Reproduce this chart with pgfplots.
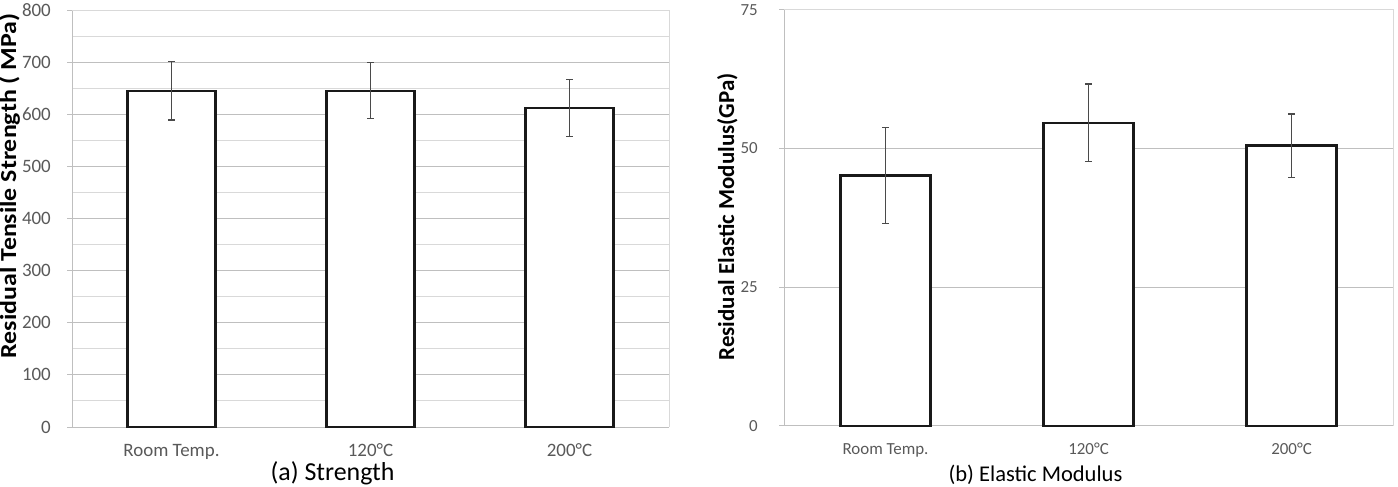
\documentclass[border=0pt]{standalone}
\usepackage{fontspec}
\setmainfont{Carlito}
\usepackage{pgfplots}
\pgfplotsset{compat=1.18}
\definecolor{tickgray}{HTML}{595959}
\definecolor{gridmaj}{HTML}{BFBFBF}
\definecolor{gridmin}{HTML}{D9D9D9}
\definecolor{errgray}{HTML}{4A4A4A}
\pgfplotstableread{
x y err
0 645 56
1 645 54
2 612 55
}\strengthdata
\pgfplotstableread{
x y err
0 45.1 8.7
1 54.6 7.0
2 50.5 5.7
}\modulusdata
\pgfplotsset{
  mybar/.style={
    scale only axis, anchor=south west,
    xmin=-0.5, xmax=2.5, ymin=0,
    ybar,
    axis x line*=bottom, axis y line*=left,
    xtick={0,1,2}, xticklabels={Room Temp., 120°C, 200°C},
    major x tick style={draw=none},
    tick align=outside,
    ymajorgrids,
    major grid style={gridmaj, line width=0.9bp},
    axis line style={gridmaj, line width=0.9bp},
    major tick style={gridmaj, line width=0.9bp},
    major tick length=5bp,
    /pgf/number format/assume math mode=true,
    ticklabel style={text=tickgray},
    xticklabel style={anchor=base, inner sep=0pt},
    yticklabel style={anchor=east, inner sep=0pt},
    clip=false,
  },
  mybarplot/.style={
    draw=black!90, fill=white, line width=2.3bp,
    error bars/.cd, y dir=both, y explicit,
    error bar style={line width=1.1bp, draw=errgray},
    error mark options={rotate=90, mark size=3.3bp, line width=1.1bp, draw=errgray},
  },
}
\begin{document}
\begin{tikzpicture}[x=1bp,y=1bp]
\path[use as bounding box] (0,0) rectangle (1398,487);
% (a) Strength
\begin{axis}[mybar,
  at={(72bp,60bp)}, width=597bp, height=417bp,
  ymax=800, ytick={0,100,...,800},
  minor y tick num=1, yminorgrids,
  minor grid style={gridmin, line width=0.9bp},
  minor tick style={draw=none},
  bar width=88bp,
  ticklabel style={font=\fontsize{19}{19}\selectfont},
  xticklabel style={yshift=-25bp},
  yticklabel style={xshift=-16bp},
]
\draw[gridmin, line width=0.9bp] (rel axis cs:0,1) -- (rel axis cs:1,1) -- (rel axis cs:1,0);
\addplot[mybarplot] table[x=x, y=y, y error=err] {\strengthdata};
\end{axis}
% (b) Elastic Modulus
\begin{axis}[mybar,
  at={(784bp,61.3bp)}, width=609bp, height=416bp,
  ymax=75, ytick={0,25,50,75},
  bar width=90bp,
  ticklabel style={font=\fontsize{17}{17}\selectfont},
  xticklabel style={yshift=-24bp},
  yticklabel style={xshift=-21bp},
]
\draw[gridmin, line width=0.9bp] (rel axis cs:0,1) -- (rel axis cs:1,1) -- (rel axis cs:1,0);
\addplot[mybarplot] table[x=x, y=y, y error=err] {\modulusdata};
\end{axis}
\node[rotate=90, xscale=1.13, anchor=base, font=\bfseries\fontsize{23}{23}\selectfont] at (16,301) {Residual Tensile Strength ( MPa)};
\node[rotate=90, anchor=base, font=\bfseries\fontsize{23}{23}\selectfont] at (734,270) {Residual Elastic Modulus(GPa)};
\node[anchor=base, font=\fontsize{26}{26}\selectfont] at (332.5,6) {(a) Strength};
\node[anchor=base, font=\fontsize{22.6}{22.6}\selectfont] at (1035.5,5) {(b) Elastic Modulus};
\end{tikzpicture}
\end{document}
